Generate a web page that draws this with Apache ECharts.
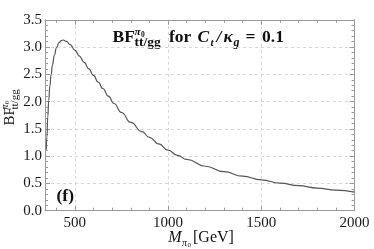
<!DOCTYPE html>
<html><head><meta charset="utf-8">
<script src="https://cdn.jsdelivr.net/npm/echarts@6/dist/echarts.min.js"></script>
<style>html,body{margin:0;padding:0;background:#fff}#c{width:374px;height:249px}</style>
</head><body><div id="c"></div>
<script>
// ---- data ----
const massGeV = [347,350,355,360,366,373,380,390,402,415,428,437,455,475,500,525,550,575,600,625,650,680,710,750,800,860,900,950,1000,1050,1100,1200,1300,1400,1500,1600,1700,1800,1900,2000];
const bfValues = [1.12,1.35,1.72,2.02,2.28,2.5,2.67,2.85,2.99,3.08,3.12,3.13,3.105,3.045,2.945,2.835,2.72,2.60,2.48,2.36,2.24,2.10,1.965,1.80,1.62,1.45,1.345,1.225,1.11,1.015,0.94,0.815,0.715,0.633,0.565,0.507,0.458,0.415,0.376,0.34];
const xMajorTicks = [500,1000,1500,2000];
const xMinorTicks = [400,600,700,800,900,1100,1200,1300,1400,1600,1700,1800,1900];
const xRange = [340,2000];
const yRange = [0,3.5];

const SERIF = '"Liberation Serif","DejaVu Serif",serif';
const frameColor = '#9a9a9a';
const gridStyle = {show:true,lineStyle:{color:'#d6d6d6',type:[3,3],width:1}};

function txt(text, x, baseline, size, opt){
  opt = opt||{};
  return {type:'text', x:x, y:baseline - 0.34*size, silent:true,
    style:{text:text, fill:opt.fill||'#111', align:'left', verticalAlign:'middle',
      font:(opt.italic?'italic ':'')+(opt.bold?'bold ':'')+size+'px '+SERIF}};
}

const chart = echarts.init(document.getElementById('c'), null, {renderer:'canvas'});

function xAx(pos, ticks, len, labels, split, line){
  return {type:'value', position:pos, min:xRange[0], max:xRange[1], gridIndex:0,
    axisLine:{show:line, onZero:false, lineStyle:{color:frameColor,width:1}},
    axisTick:{show:true, inside:true, length:len, customValues:ticks, lineStyle:{color:frameColor}},
    axisLabel:{show:labels, customValues:ticks, margin:5, color:'#1a1a1a', fontSize:15, fontFamily:SERIF, formatter:v=>String(v)},
    splitLine: split ? gridStyle : {show:false}};
}
function yAx(pos, labels, split){
  return {type:'value', position:pos, min:yRange[0], max:yRange[1], interval:0.5,
    axisLine:{show:true, onZero:false, lineStyle:{color:frameColor,width:1}},
    axisTick:{show:true, inside:true, length:5, lineStyle:{color:frameColor}},
    minorTick:{show:true, splitNumber:5, length:3, lineStyle:{color:frameColor}},
    axisLabel:{show:labels, margin:3, color:'#1a1a1a', fontSize:15, fontFamily:SERIF, formatter:v=>v.toFixed(1)},
    splitLine: split ? gridStyle : {show:false}};
}

const option = {
  animation:false,
  backgroundColor:'#fff',
  grid:{left:45, right:19.5, top:19.8, bottom:38.3, containLabel:false},
  xAxis:[
    xAx('bottom', xMajorTicks, 5, true, true, true),
    xAx('bottom', xMinorTicks, 3, false, false, false),
    xAx('top', xMajorTicks, 5, false, false, true),
    xAx('top', xMinorTicks, 3, false, false, false)
  ],
  yAxis:[ yAx('left', true, true), yAx('right', false, false) ],
  series:[{
    type:'line', xAxisIndex:0, yAxisIndex:0, showSymbol:false, smooth:0.5, smoothMonotone:'x',
    lineStyle:{color:'#555555', width:1.2},
    data: massGeV.map((m,i)=>[m, bfValues[i]])
  }],
  graphic:[
    // title
    txt('BF', 112.5, 43.5, 17.5, {bold:true}),
    txt('π', 134.5, 36, 11, {bold:true, italic:true}),
    txt('0', 141, 38, 7.5, {bold:true}),
    txt('tt/gg', 134.5, 47.5, 13.5, {bold:true}),
    txt('for', 169, 43.5, 17.5, {bold:true}),
    txt('C', 197.5, 43.5, 17.5, {bold:true, italic:true}),
    txt('t', 210.5, 47, 11, {bold:true, italic:true}),
    txt('/', 216.5, 43.5, 17.5, {bold:true, italic:true}),
    txt('κ', 223.5, 43.5, 17.5, {bold:true, italic:true}),
    txt('g', 233.5, 47, 12, {bold:true, italic:true}),
    txt('=', 245.5, 43.5, 17.5, {bold:true}),
    txt('0.1', 262, 43.5, 17.5, {bold:true}),
    // panel tag
    txt('(f)', 56.5, 202, 17.5, {bold:true}),
    // x axis name
    txt('M', 168.3, 243, 16, {italic:true}),
    txt('π', 182, 246.5, 10, {italic:true}),
    txt('0', 187.5, 248, 7),
    txt('[GeV]', 193, 243, 16),
    // y axis name (rotated)
    {type:'group', x:15, y:125.5, rotation:Math.PI/2, children:[
      txt('BF', 0, 0, 15),
      txt('π', 16, -6.5, 10, {italic:true}),
      txt('0', 21.5, -5, 7),
      txt('tt/gg', 16, 3.5, 11)
    ]}
  ]
};
chart.setOption(option);
</script></body></html>
